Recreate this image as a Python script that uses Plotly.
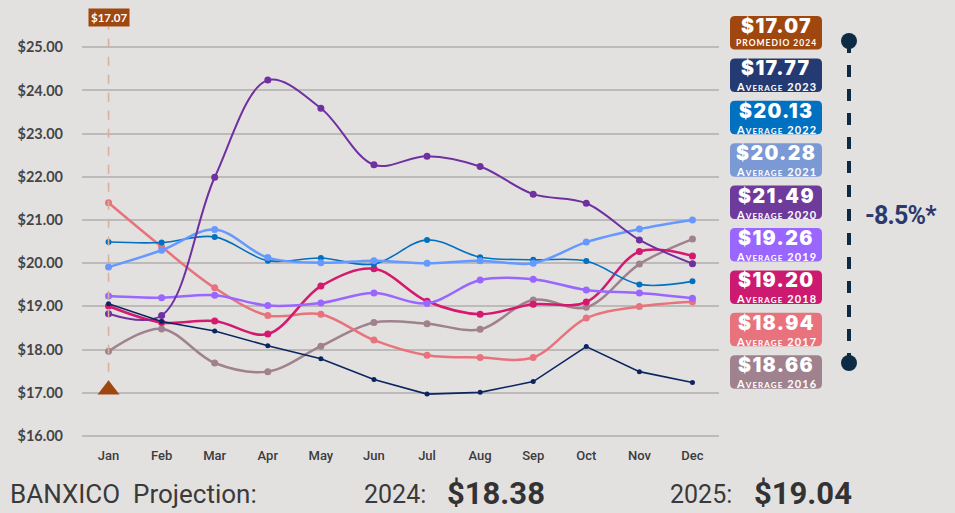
import plotly.graph_objects as go

# Monthly average USD/MXN exchange rate, by year
months = ["Jan", "Feb", "Mar", "Apr", "May", "Jun", "Jul", "Aug", "Sep", "Oct", "Nov", "Dec"]

fx_2016 = [17.96, 18.48, 17.69, 17.49, 18.08, 18.63, 18.60, 18.47, 19.15, 18.98, 19.98, 20.56]
fx_2017 = [21.40, 20.38, 19.43, 18.79, 18.82, 18.22, 17.87, 17.82, 17.82, 18.73, 19.00, 19.11]
fx_2018 = [19.01, 18.63, 18.66, 18.36, 19.47, 19.87, 19.12, 18.82, 19.05, 19.10, 20.27, 20.17]
fx_2019 = [19.24, 19.20, 19.26, 19.02, 19.08, 19.31, 19.07, 19.61, 19.63, 19.38, 19.31, 19.19]
fx_2020 = [18.83, 18.79, 21.99, 24.24, 23.59, 22.28, 22.48, 22.24, 21.60, 21.39, 20.54, 19.99]
fx_2021 = [19.91, 20.30, 20.78, 20.13, 20.01, 20.06, 20.00, 20.06, 20.00, 20.49, 20.79, 21.00]
fx_2022 = [20.49, 20.48, 20.61, 20.06, 20.12, 19.98, 20.54, 20.14, 20.08, 20.05, 19.51, 19.58]
fx_2023 = [19.06, 18.65, 18.43, 18.09, 17.79, 17.31, 16.97, 17.01, 17.26, 18.07, 17.49, 17.24]
fx_2024 = [17.07]

y_ticks = [16, 17, 18, 19, 20, 21, 22, 23, 24, 25]
y_tick_text = ["$%.2f" % v for v in y_ticks]

avg_values = ["$17.07", "$17.77", "$20.13", "$20.28", "$21.49", "$19.26", "$19.20", "$18.94", "$18.66"]
avg_captions = ["PROMEDIO 2024", "Average 2023", "Average 2022", "Average 2021", "Average 2020",
                "Average 2019", "Average 2018", "Average 2017", "Average 2016"]
avg_colors = ["#A0470F", "#233A73", "#0070C0", "#7B99D4", "#6E3A9B",
              "#9966FF", "#CC1A70", "#E8737C", "#A0828E"]

change_text = "-8.5%*"
projection_label = "BANXICO  Projection:"
projection_years = ["2024:", "2025:"]
projection_values = ["$18.38", "$19.04"]

# Figure geometry (pixels)
W, H = 955, 513
L, R, T, B = 82, 719, 27, 440
Y_MIN, Y_MAX = 15.907, 25.470
BG = "#E3E1E0"


def px(x):
    return (x - L) / (R - L)


def py(y):
    return (B - y) / (B - T)


fig = go.Figure()

series = [
    (fx_2016, "#A0828E", 2.5, 7, "spline"),
    (fx_2017, "#E8737C", 2.5, 7, "spline"),
    (fx_2018, "#D6186E", 2.5, 7, "spline"),
    (fx_2019, "#9966FF", 2.5, 7, "spline"),
    (fx_2022, "#0070C0", 1.6, 6, "spline"),
    (fx_2021, "#6699FF", 2.5, 7, "spline"),
    (fx_2020, "#7030A0", 2.0, 7, "spline"),
    (fx_2023, "#0B2560", 1.6, 5, "linear"),
]
for vals, color, width, msize, shape in series:
    fig.add_trace(go.Scatter(
        x=months, y=vals, mode="lines+markers",
        line=dict(color=color, width=width, shape=shape, smoothing=1.0),
        marker=dict(color=color, size=msize),
        showlegend=False, hoverinfo="skip",
    ))

# 2024 reference: dashed guide and triangle marker at January
fig.add_trace(go.Scatter(
    x=[months[0], months[0]], y=[fx_2024[0], Y_MAX], mode="lines",
    line=dict(color="#D9B09A", width=1.6, dash="dash"),
    showlegend=False, hoverinfo="skip",
))
fig.add_trace(go.Scatter(
    x=months[:1], y=fx_2024, mode="markers",
    marker=dict(symbol="triangle-up", size=19, color="#A0470F"),
    showlegend=False, hoverinfo="skip",
))

annotations = []
shapes = []

annotations.append(dict(
    x=months[0], xref="x", y=py(17.5), yref="paper", text="<b>$17.07</b>",
    showarrow=False, font=dict(family="Lato", size=11.5, color="white"),
    bgcolor="#A0470F", borderpad=2, xanchor="center", yanchor="middle",
))


def rounded_rect(x0, y0, x1, y1, r):
    pts = [
        ("M", (x0 + r, y0)), ("L", (x1 - r, y0)), ("Q", (x1, y0), (x1, y0 + r)),
        ("L", (x1, y1 - r)), ("Q", (x1, y1), (x1 - r, y1)),
        ("L", (x0 + r, y1)), ("Q", (x0, y1), (x0, y1 - r)),
        ("L", (x0, y0 + r)), ("Q", (x0, y0), (x0 + r, y0)),
    ]
    out = []
    for cmd, *ps in pts:
        out.append(cmd + " ".join("%.5f,%.5f" % (px(a), py(b)) for a, b in ps))
    return " ".join(out) + " Z"


# Yearly average badges
box_x0, box_x1 = 730, 822
box_cx = (box_x0 + box_x1) / 2
box_top0, box_h, box_step = 16, 33.5, 42.4
for i, (val, cap, col) in enumerate(zip(avg_values, avg_captions, avg_colors)):
    top = box_top0 + i * box_step
    shapes.append(dict(type="path", path=rounded_rect(box_x0, top, box_x1, top + box_h, 5),
                       xref="paper", yref="paper", fillcolor=col, line=dict(width=0), layer="below"))
    annotations.append(dict(
        x=px(box_cx), y=py(top + 10), xref="paper", yref="paper",
        text='<span style="letter-spacing:1.4px">%s</span>' % val,
        showarrow=False, xanchor="center", yanchor="middle", borderpad=0,
        font=dict(family="Inter", size=19.5, color="white", weight=900),
    ))
    if i == 0:
        cap_font = dict(family="Lato", size=8.5, color="white", weight=700)
        cap_text = '<span style="letter-spacing:1px">%s</span>' % cap
        cap_y = top + 27.5
    else:
        cap_font = dict(family="Lato", size=11, color="white", weight=700, variant="small-caps")
        cap_text = '<span style="letter-spacing:1.1px">%s</span>' % cap
        cap_y = top + 28.5
    annotations.append(dict(
        x=px(box_cx), y=py(cap_y), xref="paper", yref="paper", text=cap_text,
        showarrow=False, xanchor="center", yanchor="middle", borderpad=0, font=cap_font,
    ))

# Range bracket on the right
shapes.append(dict(type="line", xref="paper", yref="paper",
                   x0=px(849), x1=px(849), y0=py(41), y1=py(363),
                   line=dict(color="#0D2B45", width=4, dash="dash")))
for cy in (41, 363):
    shapes.append(dict(type="circle", xref="paper", yref="paper",
                       x0=px(841), x1=px(857), y0=py(cy - 8), y1=py(cy + 8),
                       fillcolor="#0D2B45", line=dict(width=0)))
annotations.append(dict(
    x=px(901), y=py(215), xref="paper", yref="paper",
    text='<span style="letter-spacing:-0.8px"><b>%s</b></span>' % change_text,
    showarrow=False, xanchor="center", yanchor="middle",
    font=dict(family="Roboto", size=25, color="#2B3A6E"),
))

# Projection footer
foot_y = py(494)
annotations.append(dict(
    x=px(8), y=foot_y, xref="paper", yref="paper", text=projection_label,
    showarrow=False, xanchor="left", yanchor="middle",
    font=dict(family="Roboto", size=26, color="#3A3A3A"),
))
for yr_txt, val_txt, x_yr, x_val in zip(projection_years, projection_values, (362, 668), (445, 752)):
    annotations.append(dict(
        x=px(x_yr), y=foot_y, xref="paper", yref="paper", text=yr_txt,
        showarrow=False, xanchor="left", yanchor="middle",
        font=dict(family="Roboto", size=25, color="#3A3A3A"),
    ))
    annotations.append(dict(
        x=px(x_val), y=py(493), xref="paper", yref="paper", text="<b>%s</b>" % val_txt,
        showarrow=False, xanchor="left", yanchor="middle",
        font=dict(family="Roboto", size=31, color="#333333"),
    ))

fig.update_layout(
    width=W, height=H,
    margin=dict(l=L, r=W - R, t=T, b=H - B, pad=0),
    paper_bgcolor=BG, plot_bgcolor=BG,
    showlegend=False,
    xaxis=dict(type="category", range=[-0.5, 11.5], showgrid=False, zeroline=False,
               showline=False, ticks="", ticklabelstandoff=6,
               tickfont=dict(family="Roboto", size=13, color="#3C3C3C", weight=500)),
    yaxis=dict(range=[Y_MIN, Y_MAX], tickvals=y_ticks, ticktext=y_tick_text,
               showgrid=True, gridcolor="#BDBBBA", gridwidth=1.5, zeroline=False,
               showline=False, ticks="", ticklabelstandoff=18,
               tickfont=dict(family="Lato", size=14.5, color="#454545", weight=700)),
    annotations=annotations,
    shapes=shapes,
)

fig.write_html("out.html")
